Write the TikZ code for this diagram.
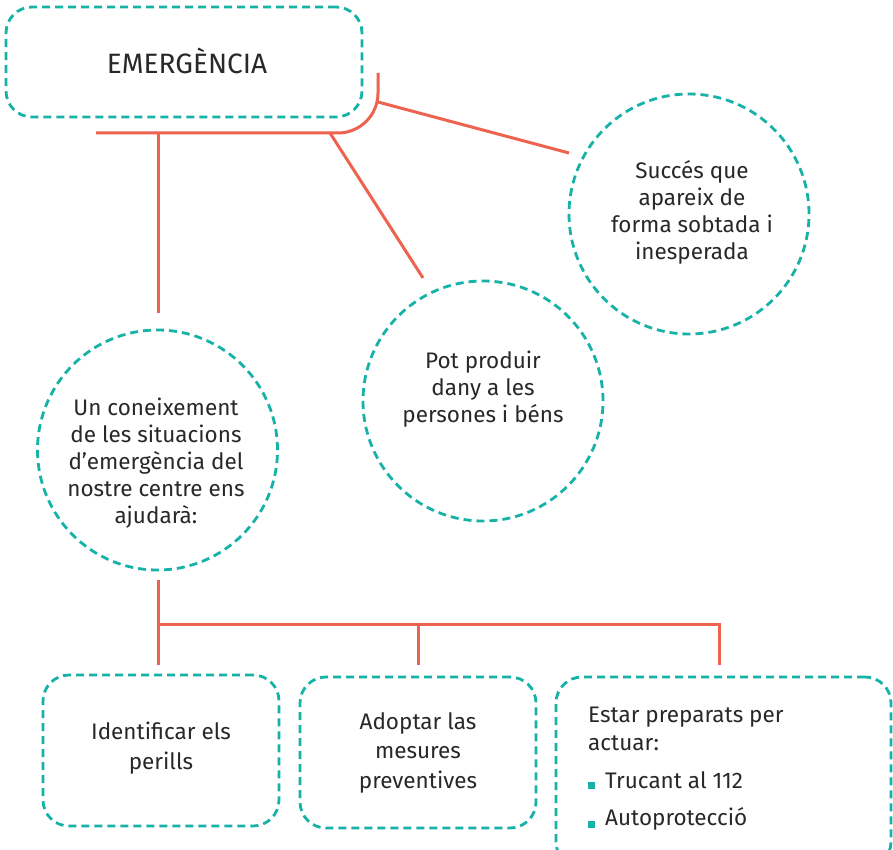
\documentclass[tikz,border=0pt]{standalone}
\usepackage{fontspec}
\setmainfont{Fira Sans}
\definecolor{teal1}{RGB}{22,178,168}
\definecolor{red1}{RGB}{238,99,80}
\definecolor{txt1}{RGB}{40,40,40}
\begin{document}
\begin{tikzpicture}[x=1pt,y=-1pt,
  dbox/.style={draw=teal1,line width=2.8pt,dash pattern=on 8pt off 5pt,rounded corners=26pt,inner sep=0pt},
  dcirc/.style={draw=teal1,line width=2.8pt,dash pattern=on 8pt off 5pt,circle,minimum size=240pt,inner sep=0pt},
  tx/.style={text=txt1,font=\fontsize{22.5}{27}\selectfont,align=center,inner sep=0pt},
  txb/.style={text=txt1,font=\fontsize{22.5}{29.5}\selectfont,align=center,inner sep=0pt},
  conn/.style={draw=red1,line width=3pt},
  bul/.style={fill=teal1,minimum size=7pt,inner sep=0pt}]
\clip (0,0) rectangle (893,850);
\fill[white] (0,0) rectangle (893,850);
% nodes
\node[dbox,minimum width=356pt,minimum height=110pt] (em) at (184,62) {};
\node[text=txt1,font=\fontsize{28}{30}\selectfont,inner sep=0pt] (emt) at (187,61) {EMERGÈNCIA};
\node[dcirc] (c1) at (689,214) {};
\node[tx] (c1t) at (692,212) {Succés que\\apareix de\\forma sobtada i\\inesperada};
\node[dcirc] (c2) at (483,401) {};
\node[tx] (c2t) at (483,389) {Pot produir\\dany a les\\persones i béns};
\node[dcirc] (c3) at (157.5,450) {};
\node[tx] (c3t) at (156,463) {Un coneixement\\de les situacions\\d’emergència del\\nostre centre ens\\ajudarà:};
\node[dbox,minimum width=236pt,minimum height=151pt] (b1) at (161,750.5) {};
\node[txb] (b1t) at (161,748) {Identificar els\\perills};
\node[dbox,minimum width=236pt,minimum height=151pt] (b2) at (418,752.5) {};
\node[txb] (b2t) at (418,752.5) {Adoptar las\\mesures\\preventives};
\node[dbox,minimum width=335pt,minimum height=191pt] (b3) at (723.5,772.5) {};
\node[text=txt1,font=\fontsize{22.5}{28}\selectfont,align=left,inner sep=0pt,anchor=west] (b3t) at (588,729) {Estar preparats per\\actuar:};
\node[text=txt1,font=\fontsize{22.5}{28}\selectfont,inner sep=0pt,anchor=west] (b3a) at (605,780) {Trucant al 112};
\node[text=txt1,font=\fontsize{22.5}{28}\selectfont,inner sep=0pt,anchor=west] (b3b) at (605,819) {Autoprotecció};
\node[bul] (q1) at (591.5,785) {};
\node[bul] (q2) at (591.5,824) {};
% connectors
\coordinate (t0) at (378,73);
\coordinate (tc) at (378,133);
\coordinate (tl) at (96,133);
\coordinate (s1) at (378,102);
\coordinate (s1e) at (569,153);
\coordinate (s2) at (330,133);
\coordinate (s2e) at (423,278);
\coordinate (v1) at (158,133);
\coordinate (v1e) at (158,313);
\coordinate (v2) at (158,580);
\coordinate (v2e) at (158,665);
\coordinate (h1) at (158,624);
\coordinate (h2) at (719,624);
\coordinate (d2) at (418,624);
\coordinate (d2e) at (418,665);
\coordinate (d3e) at (719,665);
\draw[conn,rounded corners=40pt] (t0) -- (tc) -- (tl);
\draw[conn] (s1) -- (s1e);
\draw[conn] (s2) -- (s2e);
\draw[conn] (v1) -- (v1e);
\draw[conn] (v2) -- (v2e);
\draw[conn] (h1) -- (h2) -- (d3e);
\draw[conn] (d2) -- (d2e);
\end{tikzpicture}
\end{document}
